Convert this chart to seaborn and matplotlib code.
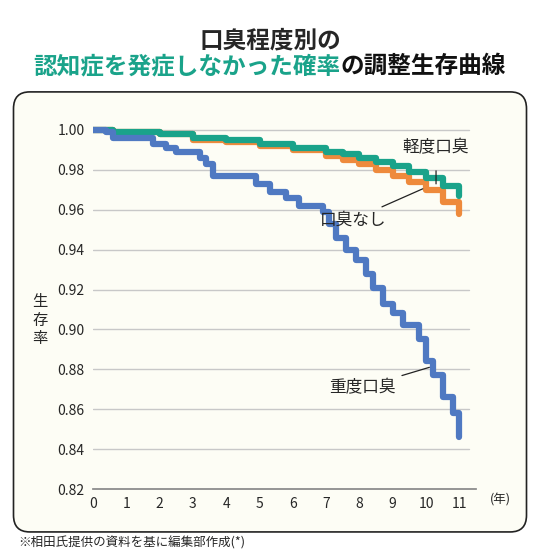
import matplotlib
matplotlib.use("Agg")
import matplotlib.pyplot as plt
import seaborn as sns
import pandas as pd
from matplotlib.patches import FancyBboxPatch

sns.set_theme(style="white")
plt.rcParams['font.family'] = ['Noto Sans CJK JP', 'DejaVu Sans']

years_sev = [0, 0.4, 0.6, 1.8, 2.2, 2.5, 3.2, 3.4, 3.6, 4.9, 5.3, 5.8, 6.2, 6.9, 7.1, 7.3, 7.6, 7.9, 8.2, 8.4, 8.7, 9.0, 9.3, 9.8, 10.0, 10.2, 10.5, 10.8, 11.0]
vals_sev = [1.0, 0.999, 0.996, 0.993, 0.991, 0.989, 0.986, 0.983, 0.977, 0.973, 0.969, 0.966, 0.962, 0.959, 0.953, 0.946, 0.940, 0.935, 0.928, 0.921, 0.913, 0.908, 0.902, 0.895, 0.884, 0.877, 0.866, 0.858, 0.846]
years_mild = [0, 0.4, 0.6, 2.0, 3.0, 4.0, 5.0, 6.0, 7.0, 7.5, 8.0, 8.5, 9.0, 9.5, 10.0, 10.5, 11.0]
vals_mild = [1.0, 1.0, 0.999, 0.998, 0.996, 0.995, 0.993, 0.991, 0.989, 0.988, 0.986, 0.984, 0.982, 0.979, 0.976, 0.972, 0.967]
years_none = [0, 0.4, 0.6, 2.0, 3.0, 4.0, 5.0, 6.0, 7.0, 7.5, 8.0, 8.5, 9.0, 9.5, 10.0, 10.5, 11.0]
vals_none = [1.0, 1.0, 0.999, 0.998, 0.995, 0.994, 0.992, 0.990, 0.987, 0.985, 0.983, 0.980, 0.977, 0.974, 0.970, 0.964, 0.958]
yticks = [0.82, 0.84, 0.86, 0.88, 0.90, 0.92, 0.94, 0.96, 0.98, 1.00]
xticks = list(range(12))

fig = plt.figure(figsize=(5.4, 5.57), dpi=100)
fig.patch.set_facecolor('white')
card = FancyBboxPatch((0.025, 0.045), 0.95, 0.79, boxstyle="round,pad=0,rounding_size=0.03",
                      transform=fig.transFigure, facecolor='#fdfdf5', edgecolor='#222222', lw=1.2, zorder=0)
fig.patches.append(card)
ax = fig.add_axes([93/540, 1-489/557, (476-93)/540, (489-124)/557])
ax.set_zorder(5)
ax.set_facecolor('none')

for xs, ys, c in [(years_none, vals_none, '#ee8a3c'), (years_mild, vals_mild, '#1aa38a'), (years_sev, vals_sev, '#4f79c2')]:
    df = pd.DataFrame({'x': xs, 'y': ys})
    sns.lineplot(data=df, x='x', y='y', ax=ax, color=c, lw=4.5, drawstyle='steps-post')

ax.set_xlim(0, 11.5)
ax.set_ylim(0.82, 1.003)
ax.set_yticks(yticks)
ax.set_yticklabels([f"{v:.2f}" for v in yticks], fontsize=10)
ax.set_xticks(xticks)
ax.set_xticklabels([str(v) for v in xticks], fontsize=10)
ax.tick_params(length=0, pad=6)
for v in yticks[1:]:
    ax.axhline(v, color='#c8c8c8', lw=1, zorder=0, xmax=11.3/11.5)
for s in ['top', 'right', 'left']:
    ax.spines[s].set_visible(False)
ax.spines['bottom'].set_color('#888888')
ax.set_xlabel(''); ax.set_ylabel('')
fig.text(500/540, 1-500/557, '(年)', fontsize=9, ha='center', va='center', zorder=6)
fig.text(40/540, 1-320/557, '生\n存\n率', fontsize=11, ha='center', va='center', linespacing=1.1, zorder=6)

ax.annotate('軽度口臭', xy=(10.3, 0.973), xytext=(10.3, 0.991), fontsize=12, ha='center', va='center',
            arrowprops=dict(arrowstyle='-', color='#222', lw=0.9, shrinkA=8, shrinkB=0))
ax.annotate('口臭なし', xy=(9.9, 0.9705), xytext=(7.8, 0.955), fontsize=12, ha='center', va='center',
            arrowprops=dict(arrowstyle='-', color='#222', lw=0.9, shrinkA=2, shrinkB=0))
ax.annotate('重度口臭', xy=(10.1, 0.881), xytext=(8.1, 0.871), fontsize=12, ha='center', va='center',
            arrowprops=dict(arrowstyle='-', color='#222', lw=0.9, shrinkA=2, shrinkB=0))

fig.text(0.5, 1-40/557, '口臭程度別の', fontsize=17, fontweight='bold', ha='center', va='center')
t1 = fig.text(0.5, 1-66/557, '認知症を発症しなかった確率', fontsize=17, fontweight='bold', color='#1aa38a', ha='left', va='center')
t2 = fig.text(0.5, 1-66/557, 'の調整生存曲線', fontsize=17, fontweight='bold', color='#111', ha='left', va='center')
fig.canvas.draw()
w1 = t1.get_window_extent().width
w2 = t2.get_window_extent().width
start = (540 - (w1 + w2)) / 2
t1.set_x(start/540)
t2.set_x((start + w1)/540)
fig.text(18/540, 1-543/557, '※相田氏提供の資料を基に編集部作成(*)', fontsize=9, ha='left', va='center')

fig.savefig('out.png', dpi=100)
